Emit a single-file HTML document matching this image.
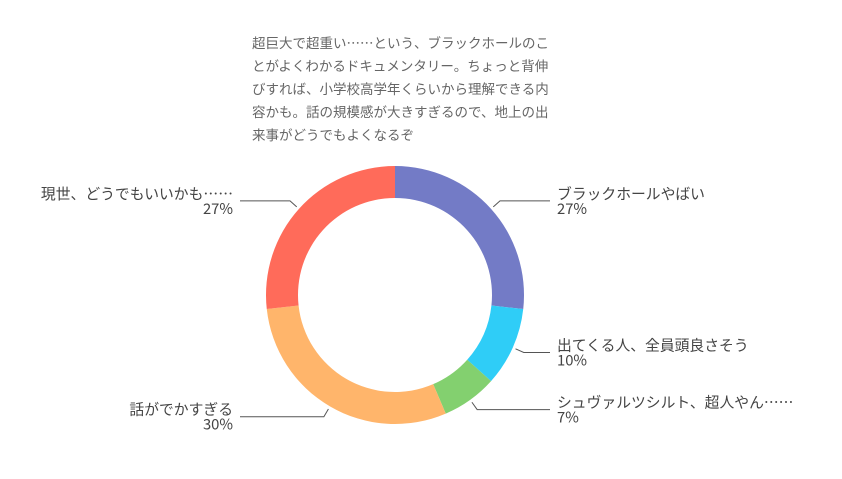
<!DOCTYPE html>
<html><head><meta charset="utf-8"><style>
body{margin:0;background:#fff;width:842px;height:479px;overflow:hidden;font-family:"Noto Sans CJK JP","Liberation Sans",sans-serif}
#title{position:absolute;left:252px;top:31px;width:320px;font-size:13.5px;line-height:23px;color:#666;white-space:pre}
</style></head><body>
<div id="title">超巨大で超重い……という、ブラックホールのこ
とがよくわかるドキュメンタリー。ちょっと背伸
びすれば、小学校高学年くらいから理解できる内
容かも。話の規模感が大きすぎるので、地上の出
来事がどうでもよくなるぞ</div>
<svg id="chart" width="842" height="479" style="position:absolute;left:0;top:0"></svg>
<script>
const categories=["ブラックホールやばい","出てくる人、全員頭良さそう","シュヴァルツシルト、超人やん……","話がでかすぎる","現世、どうでもいいかも……"];
const values=[27,10,7,30,27];
const colors=["#737bc6","#2fcdf7","#83d06f","#ffb56b","#ff6b5a"];
const cx=395,cy=295,R=129,r=97;
const NS="http://www.w3.org/2000/svg";
const svg=document.getElementById('chart');
const total=values.reduce((a,b)=>a+b,0);
function pt(a,rad){return [cx+rad*Math.sin(a),cy-rad*Math.cos(a)];}
let acc=0;
values.forEach((v,i)=>{
  const a0=acc/total*2*Math.PI;acc+=v;const a1=acc/total*2*Math.PI;
  const lg=(a1-a0)>Math.PI?1:0;
  const [x0,y0]=pt(a0,R),[x1,y1]=pt(a1,R),[x2,y2]=pt(a1,r),[x3,y3]=pt(a0,r);
  const p=document.createElementNS(NS,'path');
  p.setAttribute('d',`M${x0},${y0}A${R},${R} 0 ${lg} 1 ${x1},${y1}L${x2},${y2}A${r},${r} 0 ${lg} 0 ${x3},${y3}Z`);
  p.setAttribute('fill',colors[i]);
  
  
  svg.appendChild(p);
  const am=(a0+a1)/2;
  const [ax,ay]=pt(am,R+3),[bx,by]=pt(am,R+12);
  const right=Math.sin(am)>=0;
  const ex=right?550:240;
  const l=document.createElementNS(NS,'polyline');
  l.setAttribute('points',`${ax},${ay} ${bx},${by} ${ex},${by}`);
  l.setAttribute('fill','none');l.setAttribute('stroke','#555');l.setAttribute('stroke-width','1');
  
  
  svg.appendChild(l);
  const tx=right?557:233;
  [categories[i],values[i]+'%'].forEach((s,k)=>{
    const t=document.createElementNS(NS,'text');
    t.setAttribute('x',tx);t.setAttribute('y',by-2+k*15);
    t.setAttribute('text-anchor',right?'start':'end');
    t.setAttribute('font-size','14.8');t.setAttribute('fill','#444');
    t.textContent=s;
    
    
    svg.appendChild(t);
  });
});
</script>
</body></html>
